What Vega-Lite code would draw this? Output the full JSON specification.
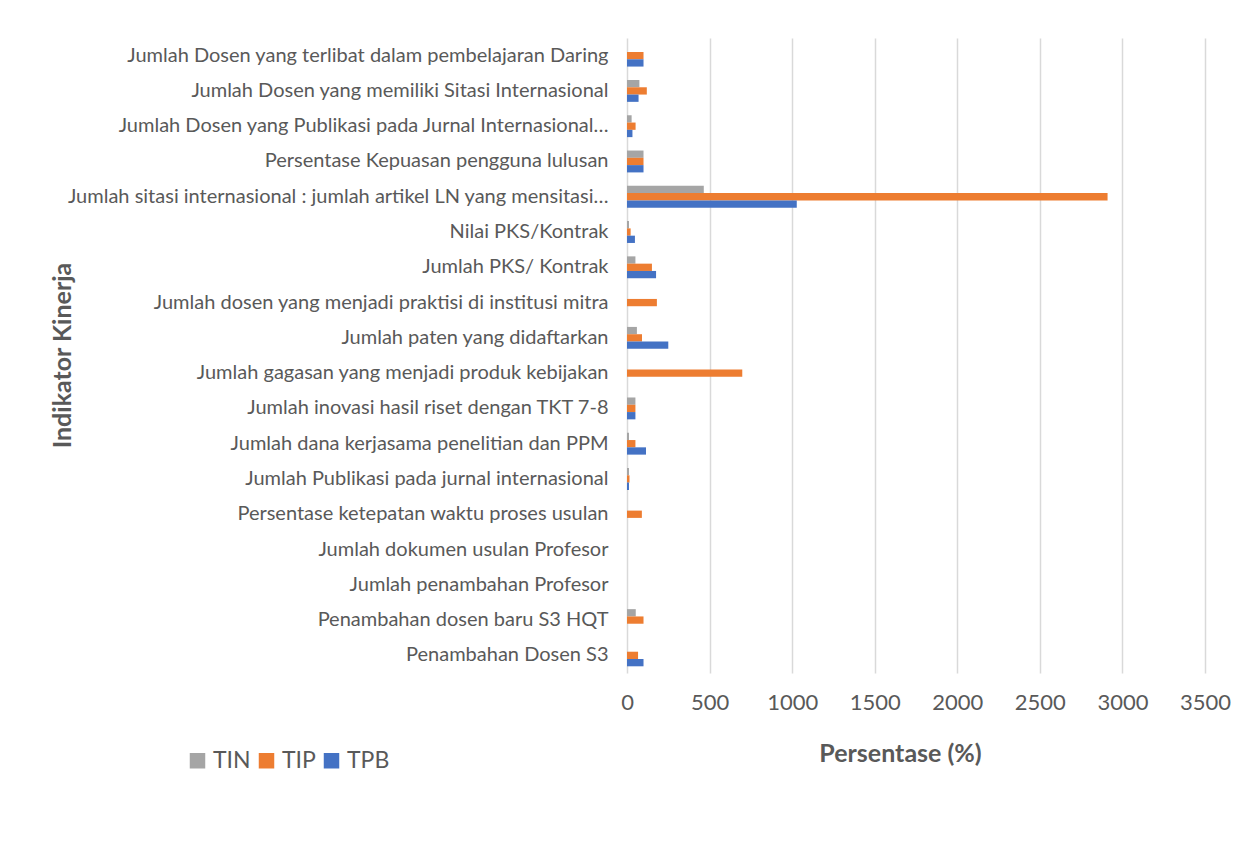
{
  "$schema": "https://vega.github.io/schema/vega-lite/v6.json",
  "autosize": "none",
  "width": 578,
  "height": 635,
  "padding": {"left": 627, "top": 38, "right": 55, "bottom": 176},
  "background": "white",
  "data": {
    "values": [
      {"indikator": "Jumlah Dosen yang terlibat dalam pembelajaran Daring", "seri": "TIP", "nilai": 100},
      {"indikator": "Jumlah Dosen yang terlibat dalam pembelajaran Daring", "seri": "TPB", "nilai": 100},
      {"indikator": "Jumlah Dosen yang memiliki Sitasi Internasional", "seri": "TIN", "nilai": 75},
      {"indikator": "Jumlah Dosen yang memiliki Sitasi Internasional", "seri": "TIP", "nilai": 120},
      {"indikator": "Jumlah Dosen yang memiliki Sitasi Internasional", "seri": "TPB", "nilai": 70},
      {"indikator": "Jumlah Dosen yang Publikasi pada Jurnal Internasional…", "seri": "TIN", "nilai": 28},
      {"indikator": "Jumlah Dosen yang Publikasi pada Jurnal Internasional…", "seri": "TIP", "nilai": 52},
      {"indikator": "Jumlah Dosen yang Publikasi pada Jurnal Internasional…", "seri": "TPB", "nilai": 33},
      {"indikator": "Persentase Kepuasan pengguna lulusan", "seri": "TIN", "nilai": 100},
      {"indikator": "Persentase Kepuasan pengguna lulusan", "seri": "TIP", "nilai": 100},
      {"indikator": "Persentase Kepuasan pengguna lulusan", "seri": "TPB", "nilai": 100},
      {"indikator": "Jumlah sitasi internasional : jumlah artikel LN yang mensitasi…", "seri": "TIN", "nilai": 465},
      {"indikator": "Jumlah sitasi internasional : jumlah artikel LN yang mensitasi…", "seri": "TIP", "nilai": 2910},
      {"indikator": "Jumlah sitasi internasional : jumlah artikel LN yang mensitasi…", "seri": "TPB", "nilai": 1028},
      {"indikator": "Nilai PKS/Kontrak", "seri": "TIN", "nilai": 12},
      {"indikator": "Nilai PKS/Kontrak", "seri": "TIP", "nilai": 22},
      {"indikator": "Nilai PKS/Kontrak", "seri": "TPB", "nilai": 48},
      {"indikator": "Jumlah PKS/ Kontrak", "seri": "TIN", "nilai": 51},
      {"indikator": "Jumlah PKS/ Kontrak", "seri": "TIP", "nilai": 151},
      {"indikator": "Jumlah PKS/ Kontrak", "seri": "TPB", "nilai": 176},
      {"indikator": "Jumlah dosen yang menjadi praktisi di institusi mitra", "seri": "TIP", "nilai": 181},
      {"indikator": "Jumlah paten yang didaftarkan\u00a0", "seri": "TIN", "nilai": 60},
      {"indikator": "Jumlah paten yang didaftarkan\u00a0", "seri": "TIP", "nilai": 91},
      {"indikator": "Jumlah paten yang didaftarkan\u00a0", "seri": "TPB", "nilai": 250},
      {"indikator": "Jumlah gagasan yang menjadi produk kebijakan", "seri": "TIP", "nilai": 698},
      {"indikator": "Jumlah inovasi hasil riset dengan TKT 7-8", "seri": "TIN", "nilai": 51},
      {"indikator": "Jumlah inovasi hasil riset dengan TKT 7-8", "seri": "TIP", "nilai": 51},
      {"indikator": "Jumlah inovasi hasil riset dengan TKT 7-8", "seri": "TPB", "nilai": 51},
      {"indikator": "Jumlah dana kerjasama penelitian dan PPM\u00a0", "seri": "TIN", "nilai": 12},
      {"indikator": "Jumlah dana kerjasama penelitian dan PPM\u00a0", "seri": "TIP", "nilai": 51},
      {"indikator": "Jumlah dana kerjasama penelitian dan PPM\u00a0", "seri": "TPB", "nilai": 115},
      {"indikator": "Jumlah Publikasi pada jurnal internasional\u00a0", "seri": "TIN", "nilai": 12},
      {"indikator": "Jumlah Publikasi pada jurnal internasional\u00a0", "seri": "TIP", "nilai": 15},
      {"indikator": "Jumlah Publikasi pada jurnal internasional\u00a0", "seri": "TPB", "nilai": 12},
      {"indikator": "Persentase ketepatan waktu proses usulan", "seri": "TIP", "nilai": 90},
      {"indikator": "Jumlah dokumen usulan Profesor", "seri": "TIP", "nilai": 0},
      {"indikator": "Jumlah penambahan Profesor", "seri": "TIP", "nilai": 0},
      {"indikator": "Penambahan dosen baru S3 HQT", "seri": "TIN", "nilai": 53},
      {"indikator": "Penambahan dosen baru S3 HQT", "seri": "TIP", "nilai": 100},
      {"indikator": "Penambahan Dosen S3", "seri": "TIP", "nilai": 67},
      {"indikator": "Penambahan Dosen S3", "seri": "TPB", "nilai": 100}
    ]
  },
  "mark": {"type": "bar"},
  "encoding": {
    "y": {
      "field": "indikator",
      "type": "nominal",
      "sort": null,
      "scale": {"paddingInner": 0.38, "paddingOuter": 0.19},
      "axis": {
        "title": "Indikator Kinerja",
        "titleFont": "Lato",
        "titleFontSize": 25,
        "titleFontWeight": "bold",
        "titleColor": "#595959",
        "titleAngle": -90,
        "titleX": -565,
        "titleY": 317,
        "titleAlign": "center",
        "titleBaseline": "middle",
        "labelFont": "Lato",
        "labelFontSize": 20,
        "labelColor": "#595959",
        "labelPadding": 19,
        "labelLimit": 0,
        "ticks": false,
        "domain": false,
        "grid": false
      }
    },
    "yOffset": {
      "field": "seri",
      "type": "nominal",
      "sort": ["TIN", "TIP", "TPB"],
      "scale": {"domain": ["TIN", "TIP", "TPB"], "paddingInner": 0, "paddingOuter": 0}
    },
    "x": {
      "field": "nilai",
      "type": "quantitative",
      "scale": {"domain": [0, 3500], "nice": false},
      "axis": {
        "values": [0, 500, 1000, 1500, 2000, 2500, 3000, 3500],
        "format": "d",
        "title": "Persentase (%)",
        "titleFont": "Lato",
        "titleFontSize": 25,
        "titleFontWeight": "bold",
        "titleColor": "#595959",
        "titleX": 273,
        "titleY": 80,
        "titleAlign": "center",
        "titleBaseline": "middle",
        "labelFont": "Lato",
        "labelFontSize": 22,
        "labelColor": "#595959",
        "labelPadding": 19,
        "labelFlush": false,
        "labelOverlap": false,
        "ticks": false,
        "domain": false,
        "grid": true,
        "gridColor": "#d9d9d9",
        "gridWidth": 1.5
      }
    },
    "color": {
      "field": "seri",
      "type": "nominal",
      "scale": {"domain": ["TIN", "TIP", "TPB"], "range": ["#A5A5A5", "#ED7D31", "#4472C4"]},
      "legend": {
        "title": null,
        "orient": "none",
        "direction": "horizontal",
        "legendX": -441,
        "legendY": 711,
        "symbolType": "square",
        "symbolSize": 240,
        "symbolStrokeWidth": 0,
        "labelFont": "Lato",
        "labelFontSize": 23,
        "labelColor": "#595959",
        "labelOffset": 4,
        "columnPadding": 4
      }
    }
  },
  "config": {"view": {"stroke": null}}
}
